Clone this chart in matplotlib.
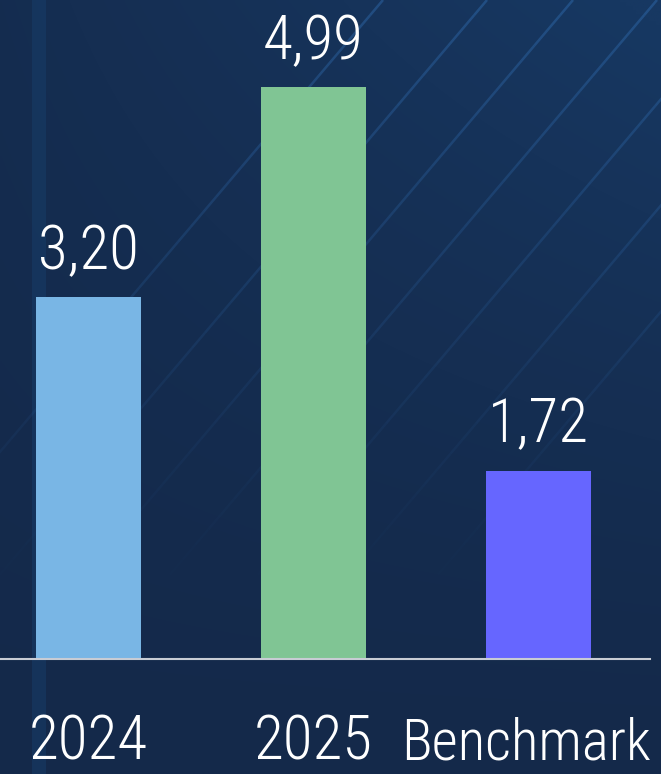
import numpy as np
import matplotlib
matplotlib.use("Agg")
import matplotlib.pyplot as plt
from matplotlib import font_manager
from matplotlib.transforms import blended_transform_factory

categories = ["2024", "2025", "Benchmark"]
values = [3.20, 4.99, 1.72]
bar_colors = ["#79b6e5", "#80c594", "#6666ff"]

# pick a narrow font if one is there
names = {f.name for f in font_manager.fontManager.ttflist}
font = "DejaVu Sans"
for cand in ["Roboto Condensed", "Liberation Sans Narrow", "Open Sans Condensed", "Noto Sans Condensed"]:
    if cand in names:
        font = cand
        break
plt.rcParams["font.family"] = [font, "DejaVu Sans"]
plt.rcParams["font.weight"] = "light"

W, H = 661, 774
fig = plt.figure(figsize=(W / 100, H / 100), dpi=100)

# background gradient
bg = fig.add_axes([0, 0, 1, 1])
yy, xx = np.mgrid[0:1:200j, 0:1:200j]
c0 = np.array([0x14, 0x29, 0x4a]) / 255
c1 = np.array([0x17, 0x38, 0x62]) / 255
t = np.clip(0.8 * xx * (1 - yy) ** 1.5 + 0.25 * (1 - yy), 0, 1)[..., None]
grad = c0 * (1 - t) + c1 * t
bg.imshow(grad, extent=[0, W, H, 0], aspect="auto", interpolation="bilinear")
# faint diagonal streaks
for x_top in [383, 487, 573, 657, 745, 835, 925]:
    xs = np.linspace(x_top, x_top - 500, 40)
    ys = (x_top - xs) * 1.18
    for i in range(len(xs) - 1):
        a = 0.4 * (1 - i / len(xs)) ** 1.3
        bg.plot(xs[i:i + 2], ys[i:i + 2], color="#3474bb", alpha=a, lw=1.8,
                solid_capstyle="butt")
bg.axvspan(32, 46, color="#17406e", alpha=0.45, lw=0)
bg.set_xlim(0, W)
bg.set_ylim(H, 0)
bg.axis("off")

# value axis starts a bit above zero in the source chart
y0, px_per_unit = 0.114, 117.3
ax = fig.add_axes([0, 115 / H, 650 / W, 659 / H])
ax.patch.set_alpha(0)
x = np.arange(len(categories))
ax.bar(x, values, width=105 / 225, color=bar_colors)
for xi, v in zip(x, values):
    ax.text(xi, v + 0.24, f"{v:.2f}".replace(".", ","), ha="center", va="baseline",
            color="white", fontsize=44, fontweight="light")

ax.set_xlim(-88.5 / 225, (650 - 88.5) / 225)
ax.set_ylim(y0, y0 + 659 / px_per_unit)
ax.set_xticks(x)
ax.set_xticklabels([])
ax.tick_params(axis="x", length=0)
ax.set_yticks([])
for s in ["top", "left", "right"]:
    ax.spines[s].set_visible(False)
ax.spines["bottom"].set_color("#c8ccd4")
ax.spines["bottom"].set_linewidth(1.5)

# category labels under the axis; the last one is pushed in from the right edge
trans = blended_transform_factory(ax.transData, ax.transAxes)
for xi, cat in zip(x, categories):
    ha = "center"
    xpos = xi
    size = 44
    if cat == "Benchmark":
        ha = "right"
        xpos = (651 - 88.5) / 225
        size = 41
    ax.text(xpos, -101 / 659, cat, transform=trans, ha=ha, va="baseline",
            color="white", fontsize=size, fontweight="light", clip_on=False)

fig.savefig("out.png", dpi=100)
